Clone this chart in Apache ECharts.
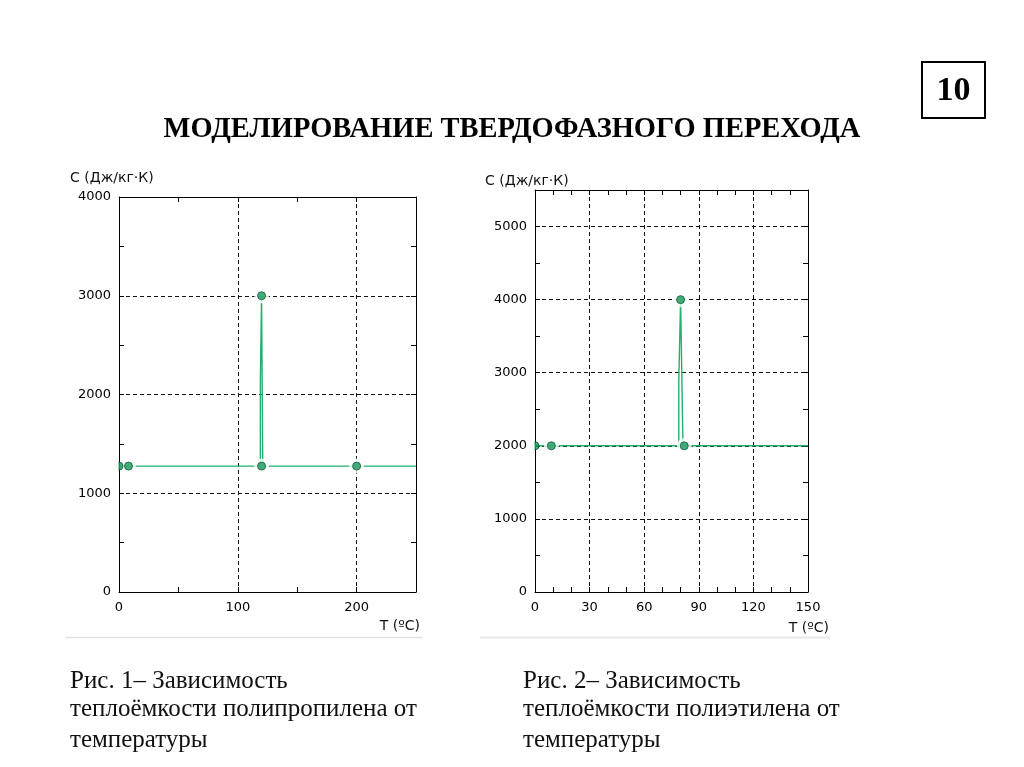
<!DOCTYPE html>
<html>
<head>
<meta charset="utf-8">
<script src="https://cdn.jsdelivr.net/npm/echarts@6/dist/echarts.min.js"></script>
<style>
html,body{margin:0;padding:0;background:#fff;}
#c{width:1024px;height:767px;}
</style>
</head>
<body>
<div id="c"></div>
<script>
// ---- Data ----
// Fig. 1 – polypropylene
const ppLineT = [0, 8, 119, 119, 120, 121, 200, 250];
const ppLineC = [1275, 1275, 1275, 2150, 3000, 1275, 1275, 1275];
const ppPointT = [0, 8, 120, 120, 200];
const ppPointC = [1275, 1275, 3000, 1275, 1275];
// Fig. 2 – polyethylene
const peLineT = [0, 9, 79, 79, 80, 81.3, 82, 150];
const peLineC = [2000, 2000, 2000, 2870, 4000, 2000, 2000, 2000];
const pePointT = [0, 9, 80, 82];
const pePointC = [2000, 2000, 4000, 2000];
// Axis ticks
const ppXTicks = [0, 100, 200];
const ppYTicks = [0, 1000, 2000, 3000, 4000];
const peXTicks = [0, 30, 60, 90, 120, 150];
const peYTicks = [0, 1000, 2000, 3000, 4000, 5000];

const titleText = 'МОДЕЛИРОВАНИЕ ТВЕРДОФАЗНОГО ПЕРЕХОДА';
const pageNo = '10';
const yName = 'C (Дж/кг·К)';
const xName = 'T (ºC)';
const caption1 = ['Рис. 1– Зависимость', 'теплоёмкости полипропилена от', 'температуры'];
const caption2 = ['Рис. 2– Зависимость', 'теплоёмкости полиэтилена от', 'температуры'];

const zip = (a, b) => a.map((v, i) => [v, b[i]]);

const G1 = {left: 119, top: 197, width: 297, height: 395};
const G2 = {left: 535, top: 190, width: 273, height: 402};

const LABEL_FONT = {fontFamily: 'DejaVu Sans', fontSize: 13, color: '#000'};
const LINE_COLOR = '#22b06c';
const DOT_COLOR = '#17985a';

function axesFor(gi, xmin, xmax, xTickStep, xLabels, xSplit, ymin, ymax, yTickStep, yLabels, ySplit) {
  const tick = {show: true, inside: true, length: 5, lineStyle: {color: '#000', width: 1}};
  const aLine = {show: true, onZero: false, lineStyle: {color: '#000', width: 1}};
  const split = {show: true, showMinLine: false, showMaxLine: false, lineStyle: {color: '#111', width: 1, type: [4, 3]}};
  const xs = [
    {type: 'value', gridIndex: gi, position: 'bottom', min: xmin, max: xmax, interval: xTickStep,
     axisLine: aLine, axisTick: tick, splitLine: {show: false},
     axisLabel: Object.assign({margin: 9, formatter: v => xLabels.indexOf(v) >= 0 ? String(v) : ''}, LABEL_FONT)},
    {type: 'value', gridIndex: gi, position: 'top', min: xmin, max: xmax, interval: xTickStep,
     axisLine: aLine, axisTick: tick, splitLine: {show: false}, axisLabel: {show: false}},
    {type: 'value', gridIndex: gi, position: 'top', min: xmin, max: xmax, interval: xSplit,
     axisLine: {show: false, onZero: false}, axisTick: {show: false}, axisLabel: {show: false}, splitLine: split}
  ];
  const ys = [
    {type: 'value', gridIndex: gi, position: 'left', min: ymin, max: ymax, interval: yTickStep,
     axisLine: aLine, axisTick: tick, splitLine: {show: false},
     axisLabel: Object.assign({margin: 8, formatter: v => yLabels.indexOf(v) >= 0 ? String(v) : ''}, LABEL_FONT)},
    {type: 'value', gridIndex: gi, position: 'right', min: ymin, max: ymax, interval: yTickStep,
     axisLine: aLine, axisTick: tick, splitLine: {show: false}, axisLabel: {show: false}},
    {type: 'value', gridIndex: gi, position: 'right', min: ymin, max: ymax, interval: ySplit,
     axisLine: {show: false, onZero: false}, axisTick: {show: false}, axisLabel: {show: false}, splitLine: split}
  ];
  return {xs, ys};
}

const a1 = axesFor(0, 0, 250, 50, ppXTicks, 100, 0, 4000, 500, ppYTicks, 1000);
const a2 = axesFor(1, 0, 150, 10, peXTicks, 30, 0, 5500, 500, peYTicks, 1000);

function seriesFor(xi, yi, lineT, lineC, ptT, ptC) {
  const pts = zip(ptT, ptC);
  return [
    {type: 'line', xAxisIndex: xi, yAxisIndex: yi, data: zip(lineT, lineC), showSymbol: false,
     lineStyle: {color: LINE_COLOR, width: 1.4}, z: 3, animation: false, silent: true},
    {type: 'scatter', xAxisIndex: xi, yAxisIndex: yi, data: pts.filter(p => p[0] > 0), symbolSize: 15,
     itemStyle: {color: '#fff'}, z: 4, animation: false, silent: true},
    {type: 'scatter', xAxisIndex: xi, yAxisIndex: yi, data: pts, symbolSize: 8, clip: false,
     itemStyle: {color: DOT_COLOR, borderColor: '#0b5a35', borderWidth: 1}, z: 5, animation: false, silent: true}
  ];
}

const serif = 'Liberation Serif, Times New Roman, serif';
const sans = 'DejaVu Sans';
const graphics = [
  {type: 'text', x: 512, y: 130, style: {text: titleText, font: 'bold 28.5px ' + serif, fill: '#000', align: 'center', verticalAlign: 'middle'}},
  {type: 'rect', shape: {x: 922, y: 62, width: 63, height: 56}, style: {fill: 'none', stroke: '#000', lineWidth: 2}},
  {type: 'text', x: 953.5, y: 91, style: {text: pageNo, font: 'bold 34px ' + serif, fill: '#000', align: 'center', verticalAlign: 'middle'}},
  {type: 'text', x: 70, y: 178, style: {text: yName, font: '14px ' + sans, fill: '#111', verticalAlign: 'middle'}},
  {type: 'text', x: 485, y: 181, style: {text: yName, font: '14px ' + sans, fill: '#111', verticalAlign: 'middle'}},
  {type: 'text', x: 420, y: 626, style: {text: xName, font: '14px ' + sans, fill: '#111', align: 'right', verticalAlign: 'middle'}},
  {type: 'text', x: 829, y: 628, style: {text: xName, font: '14px ' + sans, fill: '#111', align: 'right', verticalAlign: 'middle'}},
  {type: 'line', shape: {x1: 65, y1: 637.5, x2: 423, y2: 637.5}, style: {stroke: '#e2e2e2', lineWidth: 1.5}},
  {type: 'line', shape: {x1: 480, y1: 637.5, x2: 830, y2: 637.5}, style: {stroke: '#e8e8e8', lineWidth: 2}},
  // white strips that hide the half of the edge markers falling outside the plot
  {type: 'rect', z: 100, shape: {x: G1.left - 7, y: G1.top, width: 6.5, height: G1.height - 6}, style: {fill: '#fff'}},
  {type: 'rect', z: 100, shape: {x: G2.left - 7, y: G2.top, width: 6.5, height: G2.height - 6}, style: {fill: '#fff'}}
];
const capY = [681, 709, 740];
caption1.forEach((t, i) => graphics.push({type: 'text', x: 70, y: capY[i], style: {text: t, font: '25px ' + serif, fill: '#111', verticalAlign: 'middle'}}));
caption2.forEach((t, i) => graphics.push({type: 'text', x: 523, y: capY[i], style: {text: t, font: '25px ' + serif, fill: '#111', verticalAlign: 'middle'}}));

const chart = echarts.init(document.getElementById('c'), null, {renderer: 'canvas'});
chart.setOption({
  backgroundColor: '#fff',
  animation: false,
  grid: [
    Object.assign({containLabel: false}, G1),
    Object.assign({containLabel: false}, G2)
  ],
  xAxis: a1.xs.concat(a2.xs),
  yAxis: a1.ys.concat(a2.ys),
  series: seriesFor(0, 0, ppLineT, ppLineC, ppPointT, ppPointC)
    .concat(seriesFor(3, 3, peLineT, peLineC, pePointT, pePointC)),
  graphic: graphics
});
</script>
</body>
</html>
